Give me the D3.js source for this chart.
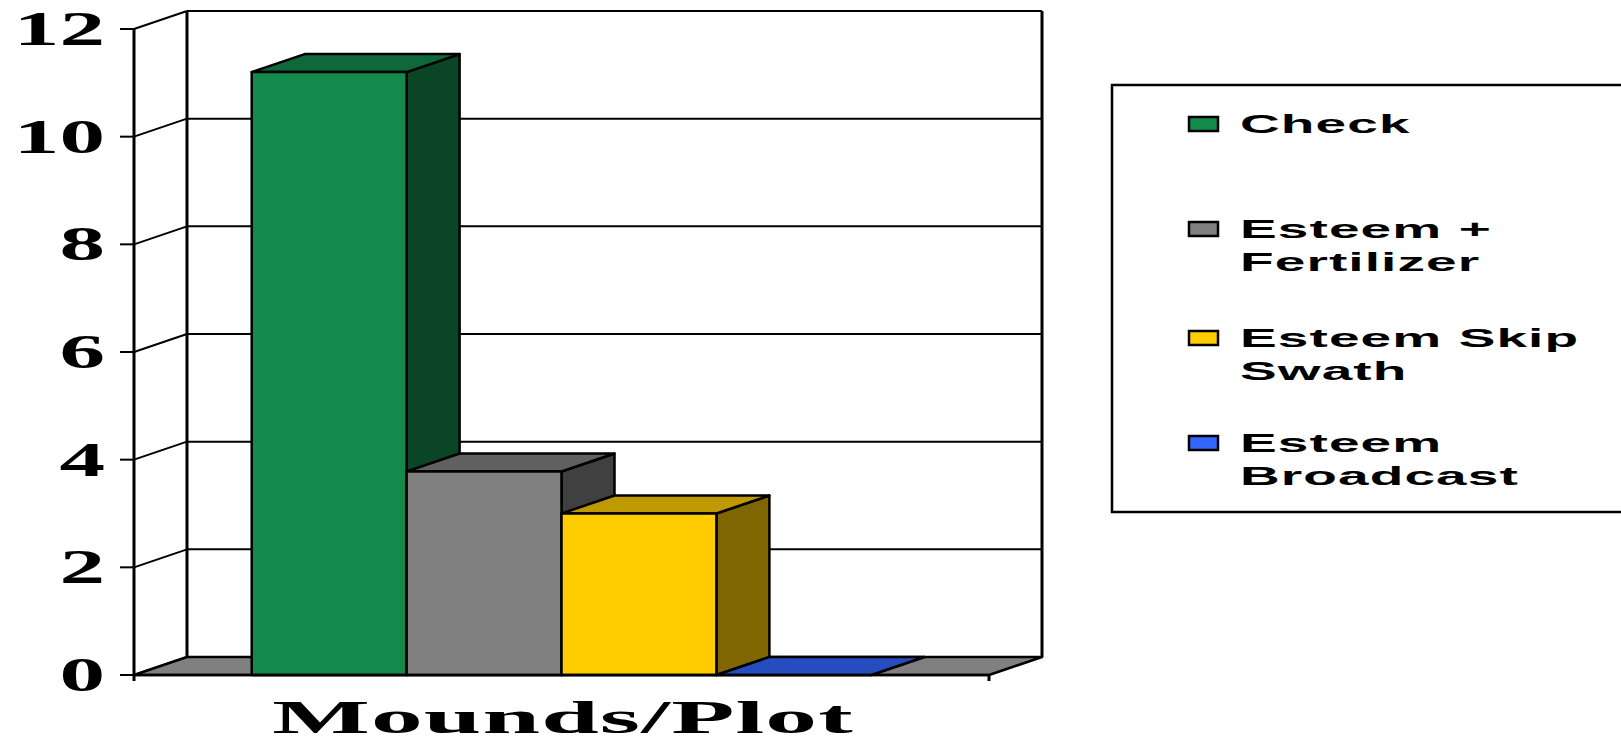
<!DOCTYPE html>
<html><head><meta charset="utf-8">
<script src="https://cdn.jsdelivr.net/npm/d3@7"></script>
<style>html,body{margin:0;padding:0;background:#fff;overflow:hidden}</style>
</head><body>
<svg id="chart" width="1621" height="739"></svg>
<script>
const categories = ["Mounds/Plot"];
const seriesNames = ["Check", "Esteem + Fertilizer", "Esteem Skip Swath", "Esteem Broadcast"];
const legendLines = [["Check"], ["Esteem +", "Fertilizer"], ["Esteem Skip", "Swath"], ["Esteem", "Broadcast"]];
const values = [11.2, 3.78, 3.0, 0];
const yTicks = [0, 2, 4, 6, 8, 10, 12];
const frontColors = ["#138a4c", "#808080", "#ffcc00", "#3366ff"];

const svg = d3.select("#chart");
const DX = 53, DY = -18;
const y = d3.scaleLinear().domain([0, 12]).range([675, 29]);
const x0 = d3.scaleBand().domain(categories).range([134, 989]).paddingInner(0).paddingOuter(0.19);
const x1 = d3.scaleBand().domain(seriesNames).range([0, x0.bandwidth()]).padding(0);
const color = d3.scaleOrdinal().domain(seriesNames).range(frontColors);
const shade = (c, k) => { const r = d3.rgb(c); return d3.rgb(r.r * k, r.g * k, r.b * k).formatHex(); };

const xL = 134, xR = 989;
const g = svg.append("g");

// back wall
g.append("rect").attr("x", xL + DX).attr("y", y(12) + DY).attr("width", xR - xL).attr("height", y(0) - y(12))
  .attr("fill", "#fff").attr("stroke", "none");
// gridlines on back wall and left wall
yTicks.forEach(t => {
  g.append("line").attr("x1", xL + DX).attr("x2", xR + DX).attr("y1", y(t) + DY).attr("y2", y(t) + DY)
    .attr("stroke", "#000").attr("stroke-width", 2);
  g.append("line").attr("x1", xL).attr("x2", xL + DX).attr("y1", y(t)).attr("y2", y(t) + DY)
    .attr("stroke", "#000").attr("stroke-width", 2);
});
// wall edges
g.append("line").attr("x1", xL + DX).attr("x2", xL + DX).attr("y1", y(12) + DY).attr("y2", y(0) + DY).attr("stroke", "#000").attr("stroke-width", 3);
g.append("line").attr("x1", xR + DX).attr("x2", xR + DX).attr("y1", y(12) + DY).attr("y2", y(0) + DY).attr("stroke", "#000").attr("stroke-width", 3);

// floor
g.append("path").attr("d", `M${xL},${y(0)}L${xR},${y(0)}L${xR + DX},${y(0) + DY}L${xL + DX},${y(0) + DY}Z`)
  .attr("fill", "#808080").attr("stroke", "#000").attr("stroke-width", 2.5).attr("stroke-linejoin", "round");

// y axis line & ticks
g.append("line").attr("x1", xL).attr("x2", xL).attr("y1", y(12)).attr("y2", y(0) + 6).attr("stroke", "#000").attr("stroke-width", 3);
g.append("line").attr("x1", xR).attr("x2", xR).attr("y1", y(0)).attr("y2", y(0) + 6).attr("stroke", "#000").attr("stroke-width", 3);
yTicks.forEach(t => {
  g.append("line").attr("x1", xL - 14).attr("x2", xL).attr("y1", y(t)).attr("y2", y(t)).attr("stroke", "#000").attr("stroke-width", 2);
  g.append("text").attr("transform", `translate(105,${y(t) + 16}) scale(1.9,1)`)
    .attr("text-anchor", "end").attr("font-family", "'Liberation Serif','Times New Roman',serif")
    .attr("font-weight", "bold").attr("font-size", 48).attr("fill", "#000").text(t);
});

// bars
const bars = g.append("g");
categories.forEach(cat => {
  seriesNames.forEach((s, i) => {
    const v = values[i];
    const xa = x0(cat) + x1(s), xb = xa + x1.bandwidth();
    const yt = y(v), yb = y(0);
    const c = color(s);
    const bg = bars.append("g").attr("stroke", "#000").attr("stroke-width", 2.5).attr("stroke-linejoin", "round");
    bg.append("path").attr("d", `M${xb},${yt}L${xb + DX},${yt + DY}L${xb + DX},${yb + DY}L${xb},${yb}Z`).attr("fill", shade(c, 0.5));
    bg.append("path").attr("d", `M${xa},${yt}L${xb},${yt}L${xb + DX},${yt + DY}L${xa + DX},${yt + DY}Z`).attr("fill", shade(c, 0.75));
    if (yb - yt > 0.5) bg.append("rect").attr("x", xa).attr("y", yt).attr("width", xb - xa).attr("height", yb - yt).attr("fill", c);
  });
});
// x-axis front line
g.append("line").attr("x1", xL).attr("x2", xR).attr("y1", y(0)).attr("y2", y(0)).attr("stroke", "#000").attr("stroke-width", 2.5);

// category title
g.append("text").attr("transform", `translate(563,733) scale(2.25,1)`).attr("text-anchor", "middle")
  .attr("font-family", "'Liberation Serif','Times New Roman',serif").attr("font-weight", "bold")
  .attr("font-size", 46).attr("letter-spacing", 0.5).attr("fill", "#000").text(categories[0]);

// legend
const lg = svg.append("g");
lg.append("rect").attr("x", 1112).attr("y", 85).attr("width", 540).attr("height", 427)
  .attr("fill", "#fff").attr("stroke", "#000").attr("stroke-width", 2.5);
const itemY = [133, 238, 347, 452];
seriesNames.forEach((s, i) => {
  lg.append("rect").attr("x", 1189).attr("y", itemY[i] - 16).attr("width", 29).attr("height", 14)
    .attr("fill", color(s)).attr("stroke", "#000").attr("stroke-width", 2.5);
  legendLines[i].forEach((ln, j) => {
    lg.append("text").attr("transform", `translate(1240,${itemY[i] + j * 33}) scale(2.2,1)`)
      .attr("font-family", "'Liberation Sans',Arial,sans-serif").attr("font-weight", "bold")
      .attr("font-size", 25).attr("letter-spacing", 0.5).attr("fill", "#000").text(ln);
  });
});
</script>
</body></html>
